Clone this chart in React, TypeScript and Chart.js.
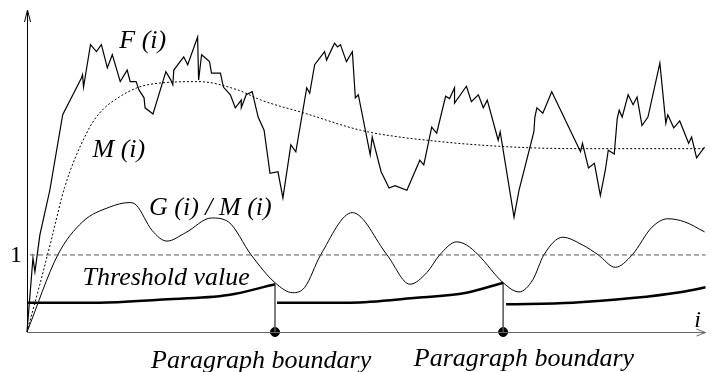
import React, { useEffect, useRef } from "react";
import { Chart, registerables } from "chart.js";

Chart.register(...registerables);

// ---- data (i = index along the text, value normalised so that the dashed level is 1) ----
const X_MAX = 684;
const Y_MAX = 4.18;
const ONE_LEVEL = 1;
const yTickLabels = ["1"];

const fSeries: [number, number][] = [
  [0, 0], [6, 0.96], [8, 0.78], [13, 1.26], [23, 1.84], [36, 2.82], [55, 3.3], [56, 3.34], [57, 3.18],
  [64, 3.73], [70, 3.64], [75, 3.73], [81, 3.43], [86, 3.6], [94, 3.25], [101, 3.4], [104, 3.25],
  [110, 3.25], [113, 3.14], [118, 3.04], [119, 2.91], [127, 2.83], [140, 3.38], [145, 3.27], [147, 3.21],
  [148, 3.4], [158, 3.57], [162, 3.47], [172, 3.83], [173, 3.27], [176, 3.6], [184, 3.51], [186, 3.36],
  [195, 3.36], [198, 3.18], [205, 3.08], [210, 2.91], [216, 3.01], [216, 2.91], [221, 3.08], [227, 3.12],
  [233, 2.79], [239, 2.62], [245, 2.06], [253, 2.08], [258, 1.74], [266, 2.43], [271, 2.34], [282, 3.17],
  [285, 3.1], [290, 3.47], [300, 3.64], [302, 3.53], [310, 3.75], [313, 3.7], [316, 3.73], [322, 3.51],
  [328, 3.64], [331, 3.04], [334, 3.08], [346, 2.3], [348, 2.53], [357, 2.08], [365, 1.87], [371, 1.9],
  [383, 1.84], [396, 2.23], [400, 2.17], [408, 2.66], [413, 2.58], [422, 3.06], [426, 3.03], [431, 3.17],
  [431, 2.97], [443, 3.19], [448, 2.99], [455, 3.08], [460, 2.91], [464, 3.01], [475, 2.49], [477, 2.6],
  [491, 1.49], [496, 1.84], [511, 2.6], [512, 2.79], [514, 2.91], [520, 2.84], [529, 3.12], [558, 2.34],
  [560, 2.45], [566, 2.13], [572, 2.19], [578, 1.77], [583, 2.1], [586, 2.36], [592, 2.31], [595, 2.77],
  [597, 2.88], [600, 2.79], [606, 3.08], [611, 2.95], [615, 3.05], [620, 2.68], [626, 2.79], [638, 3.49],
  [644, 2.71], [646, 2.82], [652, 2.65], [658, 2.74], [667, 2.45], [670, 2.53], [675, 2.26], [683, 2.4],
];

const mSeries: [number, number][] = [
  [0, 0], [13, 0.62], [25, 1.22], [38, 1.88], [60, 2.58], [73, 2.84], [93, 3.05], [113, 3.18],
  [133, 3.23], [173, 3.25], [213, 3.14], [236, 3.01], [280, 2.84], [336, 2.62], [376, 2.53],
  [403, 2.49], [443, 2.44], [510, 2.39], [576, 2.38], [683, 2.38],
];

const gmSeries: [number, number][] = [
  [0, 0], [31, 1.0], [56, 1.43], [83, 1.62], [103, 1.68], [110, 1.65], [126, 1.32], [141, 1.18],
  [160, 1.29], [186, 1.48], [203, 1.43], [226, 1.0], [250, 0.64], [268, 0.51], [280, 0.58],
  [296, 1.0], [328, 1.55], [363, 1.0], [386, 0.62], [403, 0.77], [416, 1.0], [433, 1.17],
  [443, 1.13], [455, 1.0], [480, 0.64], [496, 0.52], [510, 0.68], [521, 1.0], [540, 1.23],
  [560, 1.13], [576, 1.0], [593, 0.84], [610, 1.0], [630, 1.36], [646, 1.47], [663, 1.43], [683, 1.3],
];

const threshold1: [number, number][] = [[0, 0.38], [73, 0.38], [133, 0.42], [203, 0.48], [250, 0.62]];
const threshold2: [number, number][] = [[252, 0.38], [326, 0.38], [390, 0.44], [443, 0.51], [480, 0.64]];
const threshold3: [number, number][] = [[483, 0.36], [550, 0.38], [610, 0.44], [660, 0.52], [684, 0.58]];

const boundaries = [250, 480];

const toPts = (s: [number, number][]) => s.map(([x, y]) => ({ x, y }));

const SERIF = '"Liberation Serif", "Times New Roman", serif';

export default function App() {
  const ref = useRef<HTMLCanvasElement | null>(null);

  useEffect(() => {
    if (!ref.current) return;

    const labels = [
      { text: "F (i)", x: 93, y: 3.69, align: "left", size: 26 },
      { text: "M (i)", x: 66, y: 2.27, align: "left", size: 26 },
      { text: "G (i) / M (i)", x: 123, y: 1.52, align: "left", size: 26 },
      { text: "Threshold value", x: 56, y: 0.61, align: "left", size: 26 },
      { text: "Paragraph boundary", x: 125, y: -0.47, align: "left", size: 26 },
      { text: "Paragraph boundary", x: 390, y: -0.44, align: "left", size: 26 },
      { text: "i", x: 676, y: 0.06, align: "center", size: 24 },
    ];

    const decor = {
      id: "decor",
      afterDraw(chart: any) {
        const ctx = chart.ctx as CanvasRenderingContext2D;
        const xs = chart.scales.x;
        const ys = chart.scales.y;
        const x0 = xs.getPixelForValue(0);
        const y0 = ys.getPixelForValue(0);
        const xTop = ys.getPixelForValue(Y_MAX);
        const xEnd = xs.getPixelForValue(X_MAX);
        ctx.save();
        // y axis
        ctx.strokeStyle = "#000";
        ctx.lineWidth = 1;
        ctx.beginPath();
        ctx.moveTo(x0 + 0.5, y0);
        ctx.lineTo(x0 + 0.5, xTop);
        ctx.moveTo(x0 + 0.5 - 3, xTop + 12);
        ctx.lineTo(x0 + 0.5, xTop);
        ctx.lineTo(x0 + 0.5 + 3, xTop + 12);
        ctx.stroke();
        // x axis
        ctx.strokeStyle = "#666";
        ctx.beginPath();
        ctx.moveTo(x0, y0 + 0.5);
        ctx.lineTo(xEnd, y0 + 0.5);
        ctx.moveTo(xEnd - 9, y0 + 0.5 - 3.5);
        ctx.lineTo(xEnd, y0 + 0.5);
        ctx.lineTo(xEnd - 9, y0 + 0.5 + 3.5);
        ctx.stroke();
        // tick label "1"
        ctx.fillStyle = "#000";
        ctx.font = `24px ${SERIF}`;
        ctx.textAlign = "right";
        ctx.textBaseline = "middle";
        ctx.fillText(yTickLabels[0], x0 - 5, ys.getPixelForValue(ONE_LEVEL) + 1);
        // labels
        ctx.textBaseline = "alphabetic";
        for (const l of labels) {
          ctx.font = `italic ${l.size}px ${SERIF}`;
          ctx.textAlign = l.align as CanvasTextAlign;
          ctx.fillText(l.text, xs.getPixelForValue(l.x), ys.getPixelForValue(l.y));
        }
        ctx.restore();
      },
    };

    const thresholdEnds = [threshold1[threshold1.length - 1][1], threshold2[threshold2.length - 1][1]];

    const chart = new Chart(ref.current, {
      type: "scatter",
      data: {
        datasets: [
          {
            data: [{ x: 3, y: ONE_LEVEL }, { x: X_MAX, y: ONE_LEVEL }],
            showLine: true, borderColor: "#555", borderWidth: 1, borderDash: [5, 3], pointRadius: 0,
          },
          {
            data: toPts(fSeries), showLine: true, borderColor: "#000", borderWidth: 1.2, pointRadius: 0, tension: 0,
          },
          {
            data: toPts(mSeries), showLine: true, borderColor: "#000", borderWidth: 1, borderDash: [2, 2],
            pointRadius: 0, cubicInterpolationMode: "monotone",
          },
          {
            data: toPts(gmSeries), showLine: true, borderColor: "#000", borderWidth: 1, pointRadius: 0,
            cubicInterpolationMode: "monotone",
          },
          ...[threshold1, threshold2, threshold3].map((s) => ({
            data: toPts(s), showLine: true, borderColor: "#000", borderWidth: 2.5, pointRadius: 0,
            cubicInterpolationMode: "monotone" as const,
          })),
          ...boundaries.map((b, k) => ({
            data: [{ x: b, y: thresholdEnds[k] }, { x: b, y: 0 }],
            showLine: true, borderColor: "#555", borderWidth: 1.5, pointRadius: 0,
          })),
          {
            data: boundaries.map((b) => ({ x: b, y: 0 })),
            showLine: false, pointRadius: 4.5, pointBackgroundColor: "#000", pointBorderColor: "#000",
          },
        ] as any,
      },
      options: {
        animation: false,
        responsive: false,
        clip: false as any,
        layout: { padding: { left: 27, right: 0, top: 10, bottom: 40 } },
        plugins: { legend: { display: false }, tooltip: { enabled: false } },
        scales: {
          x: { type: "linear", min: 0, max: X_MAX, display: false },
          y: { type: "linear", min: 0, max: Y_MAX, display: false },
        },
      },
      plugins: [decor],
    });
    return () => chart.destroy();
  }, []);

  return (
    <div style={{ position: "fixed", left: 0, top: 0, width: 711, height: 372, background: "#fff" }}>
      <canvas ref={ref} width={711} height={372} />
    </div>
  );
}
